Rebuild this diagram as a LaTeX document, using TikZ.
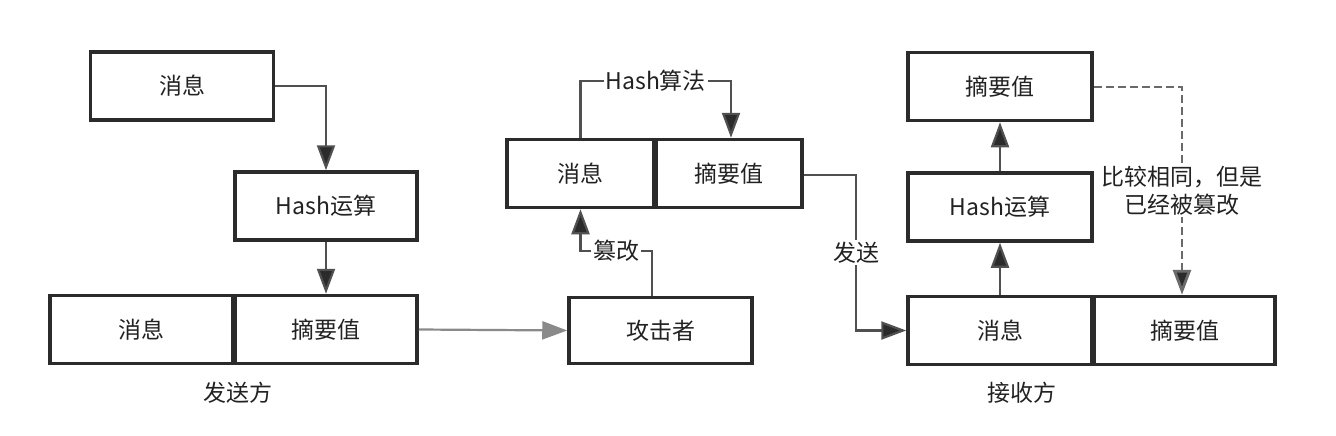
\documentclass[tikz,border=0pt]{standalone}
\usepackage{fontspec}
\setmainfont{Noto Sans CJK SC}
\usetikzlibrary{arrows.meta}
\definecolor{boxc}{HTML}{2B2B2B}
\definecolor{linec}{HTML}{505050}
\definecolor{lightl}{HTML}{8A8A8A}
\definecolor{dashc}{HTML}{6A6A6A}
\definecolor{txtc}{HTML}{222222}
\begin{document}
\begin{tikzpicture}[x=1pt,y=-1pt,
  font=\fontsize{23}{28}\selectfont, text=txtc,
  box/.style={draw=boxc, line width=3.5pt, minimum width=#1, minimum height=68pt, inner sep=0pt},
  arr/.style={draw=linec, line width=2.2pt, -{Triangle[length=25pt,width=18pt,fill=boxc]}},
  garr/.style={draw=lightl, line width=2.2pt, -{Triangle[length=25pt,width=18pt,fill=lightl]}},
  darr/.style={draw=dashc, line width=2.8pt, dash pattern=on 8pt off 4pt, -{Triangle[length=25pt,width=18pt,fill=boxc]}},
  lab/.style={fill=white, inner sep=2pt},
  sidetext/.style={inner sep=0pt}]
\useasboundingbox (0,0) rectangle (1336,436);
% sender
\node[box=183pt] (msgA) at (182,86) {消息};
\node[box=182pt] (hashA) at (326,206) {Hash运算};
\node[box=183pt] (msgB) at (141.5,329.5) {消息};
\node[box=182pt] (digB) at (326,329.5) {摘要值};
\node[sidetext] (sender) at (238,393) {发送方};
% middle
\node[box=147pt] (msgC) at (580.5,173.5) {消息};
\node[box=146pt] (digC) at (729,173.5) {摘要值};
\node[box=183pt, minimum height=66pt] (attacker) at (660.5,330.5) {攻击者};
% receiver
\node[box=184pt] (digR) at (1000,86.5) {摘要值};
\node[box=184pt] (hashR) at (1000,207) {Hash运算};
\node[box=184pt] (msgR) at (1000,330.5) {消息};
\node[box=181pt] (digR2) at (1184.5,330.5) {摘要值};
\node[sidetext] (receiver) at (1022,393) {接收方};
% coordinates
\coordinate (tA) at (652,251);
\coordinate (hA) at (731,81);
\coordinate (sA) at (856,175);
\coordinate (cA) at (1182,87);
% connectors
\draw[arr] (msgA.east) -| (hashA.north);
\draw[arr] (hashA.south) -- (hashA.south |- digB.north);
\draw[garr] (digB.east) -- (attacker.west);
\draw[arr] (tA |- attacker.north) -- (tA) -- node[lab]{篡改} (msgC.south |- tA) -- (msgC.south);
\draw[arr] (msgC.north) -- (msgC.north |- hA) -- node[lab]{Hash算法} (hA) -- (hA |- digC.north);
\draw[arr] (digC.east |- sA) -- (sA) -- node[lab]{发送} (sA |- msgR.west) -- (msgR.west);
\draw[arr] (msgR.north) -- (hashR.south);
\draw[arr] (hashR.north) -- (digR.south);
\draw[darr] (digR.east |- cA) -- (cA) -- node[lab, align=center, inner sep=1pt]{比较相同，但是\\已经被篡改} (cA |- digR2.north);
\end{tikzpicture}
\end{document}
